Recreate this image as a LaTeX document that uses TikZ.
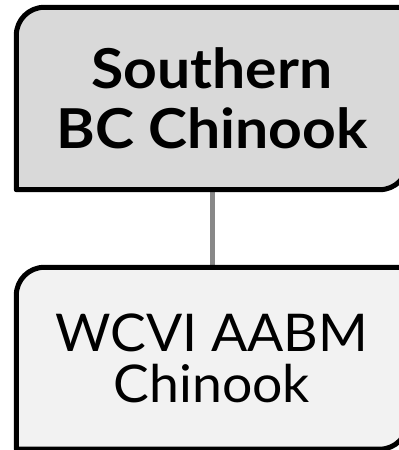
\documentclass[tikz,border=0pt]{standalone}
\usepackage{fontspec}
\setmainfont{Lato}
\newfontfamily\topfont[FakeStretch=1.07]{Lato}
\newfontfamily\botfont[FakeStretch=1.03]{Lato}
\usetikzlibrary{backgrounds}
\definecolor{topfill}{HTML}{D9D9D9}
\definecolor{botfill}{HTML}{F2F2F2}
\definecolor{linkgray}{HTML}{888888}
\tikzset{
  x=1pt, y=1pt,
  boxnode/.style={rectangle, inner sep=0pt, minimum width=391pt, align=center},
  boxline/.style={draw=black, line width=5pt, line join=round},
  link/.style={draw=linkgray, line width=5pt}
}
\begin{document}
\begin{tikzpicture}
\useasboundingbox (0,0) rectangle (399,450);
\clip (0,0) rectangle (399,450);
\node[boxnode, minimum height=182pt, font=\topfont\fontsize{55}{60}\selectfont\bfseries] (a) at (212,351.5) {Southern\\BC Chinook};
\node[boxnode, minimum height=181.5pt, font=\botfont\fontsize{52}{51}\selectfont] (b) at (212,91.75) {WCVI AABM\\Chinook};
\begin{pgfonlayer}{background}
  \path[link] (a.south) -- (b.north);
  \path[boxline, fill=topfill] (a.south west) -- ([yshift=-28pt]a.north west)
    arc[start angle=180, end angle=90, radius=28pt] -- (a.north east)
    -- ([yshift=28pt]a.south east) arc[start angle=0, end angle=-90, radius=28pt] -- cycle;
  \path[boxline, fill=botfill] (b.south west) -- ([yshift=-28pt]b.north west)
    arc[start angle=180, end angle=90, radius=28pt] -- (b.north east)
    -- ([yshift=28pt]b.south east) arc[start angle=0, end angle=-90, radius=28pt] -- cycle;
\end{pgfonlayer}
\end{tikzpicture}
\end{document}
